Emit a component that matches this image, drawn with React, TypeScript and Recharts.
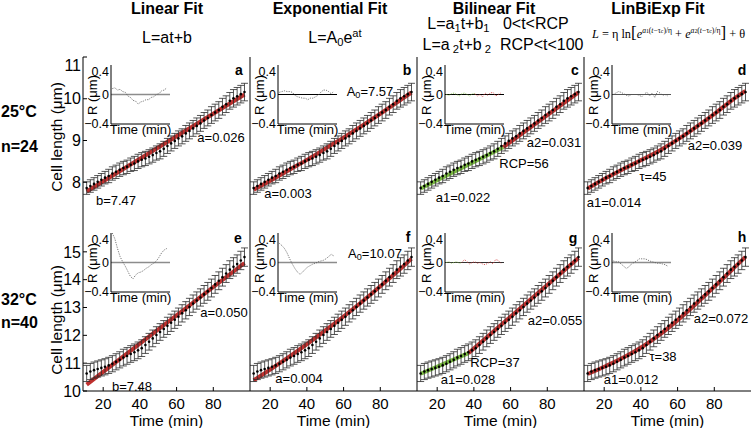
import React from 'react';
import {
  ComposedChart, LineChart, Line, Scatter, ErrorBar, XAxis, YAxis,
  ReferenceLine, CartesianGrid,
} from 'recharts';

const FONT = '"Liberation Sans", Arial, Helvetica, sans-serif';
const SERIF = '"Liberation Serif", "DejaVu Serif", serif';

// sampling times of the averaged length traces (min)
const times = [11, 13, 15, 17, 19, 21, 23, 25, 27, 29, 31, 33, 35, 37, 39, 41, 43, 45, 47, 49, 51, 53,
  55, 57, 59, 61, 63, 65, 67, 69, 71, 73, 75, 77, 79, 81, 83, 85, 87, 89, 91, 93, 95, 97];

// 25°C, n=24
const len25 = [7.86, 7.91, 7.96, 8.01, 8.06, 8.11, 8.15, 8.21, 8.25, 8.30, 8.34, 8.37, 8.42, 8.45, 8.50,
  8.54, 8.57, 8.61, 8.65, 8.70, 8.74, 8.80, 8.87, 8.93, 8.99, 9.05, 9.10, 9.17, 9.23, 9.29, 9.35, 9.41,
  9.48, 9.54, 9.61, 9.67, 9.73, 9.81, 9.87, 9.95, 10.01, 10.06, 10.11, 10.16];
const err25 = [0.15, 0.15, 0.15, 0.15, 0.15, 0.15, 0.16, 0.16, 0.16, 0.16, 0.16, 0.16, 0.16, 0.17, 0.17,
  0.17, 0.17, 0.17, 0.17, 0.17, 0.18, 0.18, 0.18, 0.18, 0.18, 0.18, 0.18, 0.19, 0.19, 0.19, 0.19, 0.19,
  0.19, 0.19, 0.20, 0.20, 0.20, 0.20, 0.20, 0.20, 0.21, 0.21, 0.21, 0.21];

// 32°C, n=40
const len32 = [10.63, 10.70, 10.75, 10.79, 10.83, 10.87, 10.92, 10.98, 11.05, 11.12, 11.20, 11.26, 11.33,
  11.39, 11.46, 11.54, 11.65, 11.77, 11.89, 12.01, 12.12, 12.23, 12.34, 12.45, 12.56, 12.67, 12.79, 12.90,
  13.02, 13.14, 13.25, 13.36, 13.47, 13.58, 13.70, 13.83, 13.96, 14.09, 14.22, 14.36, 14.46, 14.56, 14.69, 14.81];
const err32 = [0.29, 0.29, 0.29, 0.29, 0.29, 0.29, 0.29, 0.29, 0.29, 0.29, 0.30, 0.30, 0.30, 0.30, 0.30,
  0.30, 0.30, 0.30, 0.30, 0.30, 0.30, 0.30, 0.31, 0.31, 0.31, 0.31, 0.31, 0.31, 0.31, 0.31, 0.31, 0.31,
  0.32, 0.32, 0.32, 0.32, 0.32, 0.32, 0.32, 0.32, 0.33, 0.33, 0.33, 0.33];

// fitted curves
const linT = [11, 97];
const linA = [7.78, 10.10];
const linE = [10.23, 14.60];

const curveT = [11, 21, 31, 41, 51, 61, 71, 81, 91, 97];
const expB = [7.82, 8.06, 8.31, 8.56, 8.83, 9.10, 9.38, 9.67, 9.97, 10.15];
const expF = [10.38, 10.81, 11.26, 11.73, 12.22, 12.73, 13.26, 13.82, 14.39, 14.75];
const lbeD = [7.85, 8.10, 8.33, 8.55, 8.78, 9.05, 9.35, 9.67, 10.01, 10.19];
const lbeH = [10.61, 10.90, 11.22, 11.60, 12.06, 12.60, 13.19, 13.81, 14.44, 14.82];

const biC1T = [11, 56];
const biC1 = [7.85, 8.84];
const biC2T = [56, 97];
const biC2 = [8.84, 10.15];
const biG1T = [11, 37];
const biG1 = [10.62, 11.36];
const biG2T = [37, 97];
const biG2 = [11.36, 14.78];

// residuals shown in the insets
const resT = [11, 15, 19, 23, 27, 31, 35, 39, 43, 47, 51, 55, 59, 63, 67, 71, 75, 79, 83, 87, 91, 95];
const resA = [0.08, 0.09, 0.06, 0.07, 0.04, 0.03, -0.02, -0.04, -0.08, -0.09, -0.13, -0.10, -0.09, -0.07, -0.07, -0.04, -0.03, 0.00, 0.01, 0.05, 0.06, 0.09];
const resB = [0.03, 0.04, 0.05, 0.04, 0.04, 0.03, -0.01, -0.03, -0.04, -0.05, -0.05, -0.07, -0.05, -0.05, -0.03, -0.01, 0.03, 0.06, 0.06, 0.04, 0.01, 0.04];
const resC = [0.00, -0.01, 0.01, 0.02, 0.00, -0.02, 0.01, 0.02, 0.00, -0.02, 0.01, 0.01, -0.02, 0.00, -0.03, 0.02, -0.01, 0.02, 0.03, -0.02, 0.00, 0.02];
const resD = [0.00, 0.02, 0.04, 0.03, 0.01, -0.01, -0.02, 0.00, 0.00, 0.00, -0.01, -0.03, 0.01, 0.03, -0.02, 0.02, -0.04, 0.04, 0.02, -0.01, 0.00, -0.02];
const resE = [0.40, 0.32, 0.19, 0.08, 0.01, -0.05, -0.12, -0.19, -0.22, -0.17, -0.14, -0.13, -0.11, -0.08, -0.06, -0.03, -0.01, 0.02, 0.07, 0.13, 0.17, 0.19];
const resF = [0.26, 0.23, 0.19, 0.13, 0.05, -0.02, -0.08, -0.13, -0.16, -0.13, -0.09, -0.06, -0.04, -0.02, -0.01, 0.01, 0.02, 0.03, 0.05, 0.08, 0.11, 0.09];
const resG = [0.00, 0.01, -0.01, 0.00, 0.01, -0.01, 0.00, 0.04, 0.01, -0.02, 0.00, 0.01, -0.01, 0.00, -0.02, -0.03, -0.01, 0.01, -0.02, 0.04, 0.03, -0.01];
const resH = [0.02, 0.01, 0.01, -0.02, -0.05, -0.08, -0.06, -0.02, 0.00, 0.02, 0.05, 0.05, 0.05, 0.04, 0.02, 0.01, 0.00, -0.01, -0.01, -0.02, -0.03, -0.05];

const RCP_C = 56;
const RCP_G = 37;

const yTicks25 = [8, 9, 10, 11];
const yTicks32 = [10, 11, 12, 13, 14, 15];
const xTicks = [20, 40, 60, 80];

const RED = '#c0302e';
const GREEN = '#7cbd42';

// layout
const COLS = [83, 250, 417, 584];
const ROWS = [57, 224];
const PW = 167;
const PH = 167;
const YW = 44;
const IN = 59;

const pts = (ts: number[], vs: number[], es?: number[]) =>
  ts.map((t, i) => ({ t, v: vs[i], e: es ? es[i] : 0 }));
const rpts = (ts: number[], vs: number[]) => ts.map((t, i) => ({ t, r: vs[i] }));

const DataDot = (p: any) => <circle cx={p.cx} cy={p.cy} r={1.3} fill="#000" />;

type Fit = { data: { t: number; v: number }[]; color: string; curve?: boolean };

function Panel({ col, row, fits }: { col: number; row: number; fits: Fit[] }) {
  const left = COLS[col];
  const top = ROWS[row];
  const showY = col === 0;
  const showX = row === 1;
  const XH = showX ? 40 : 0;
  const data = row === 0 ? pts(times, len25, err25) : pts(times, len32, err32);
  const yDomain = row === 0 ? [7, 11] : [10, 16];
  const yTicks = row === 0 ? yTicks25 : yTicks32;
  return (
    <div style={{ position: 'absolute', left: left - YW, top: top - 1 }}>
      <ComposedChart width={YW + PW + 1} height={PH + XH + 2} margin={{ top: 1, right: 1, bottom: 1, left: 0 }}>
        <XAxis xAxisId="b" type="number" dataKey="t" domain={[9, 100]} allowDataOverflow ticks={xTicks}
          height={XH} stroke="#000" tickSize={-4} tickMargin={11}
          tick={showX ? { fill: '#000', fontSize: 15 } : false}
          label={showX ? { value: 'Time (min)', position: 'insideBottom', offset: 5, fill: '#000', fontSize: 15.5 } : undefined} />
        <XAxis xAxisId="t" orientation="top" type="number" dataKey="t" domain={[9, 100]} allowDataOverflow
          ticks={xTicks} height={0} stroke="#000" tickSize={-4} tick={false} />
        <YAxis yAxisId="l" type="number" dataKey="v" domain={yDomain} allowDataOverflow ticks={yTicks}
          width={YW} stroke="#000" tickSize={-4} tickMargin={6}
          tick={showY ? { fill: '#000', fontSize: 16 } : false} />
        <YAxis yAxisId="r" orientation="right" type="number" dataKey="v" domain={yDomain} allowDataOverflow
          ticks={yTicks} width={0} stroke="#000" tickSize={-4} tick={false} />
        {fits.map((f, i) => (
          <Line key={i} xAxisId="t" yAxisId="r" data={f.data} dataKey="v" type={f.curve ? 'monotone' : 'linear'}
            stroke={f.color} strokeWidth={4} dot={false} isAnimationActive={false} />
        ))}
        <Scatter xAxisId="b" yAxisId="l" data={data} dataKey="v" shape={DataDot} isAnimationActive={false}>
          <ErrorBar dataKey="e" direction="y" width={3.5} stroke="#2a2a2a" strokeWidth={0.8} isAnimationActive={false} />
        </Scatter>
      </ComposedChart>
    </div>
  );
}

type Res = { data: { t: number; r: number }[]; color: string };

const fmtR = (v: number) => (v === 0 ? '0' : v < 0 ? `\u2212${Math.abs(v)}` : `${v}`);

function Inset({ col, row, series, zero, zeroW }: { col: number; row: number; series: Res[]; zero: string; zeroW: number }) {
  const left = COLS[col];
  const top = ROWS[row] + (row === 0 ? 8 : 9);
  return (
    <>
      <div style={{ position: 'absolute', left, top: top - 1 }}>
        <LineChart width={28 + IN + 1} height={IN + 16} margin={{ top: 1, right: 1, bottom: 1, left: 0 }}>
          <CartesianGrid xAxisId="b" yAxisId="l" horizontal={false} vertical={false} fill="#fff" fillOpacity={1} />
          <XAxis xAxisId="b" type="number" dataKey="t" domain={[9, 100]} allowDataOverflow height={14}
            tick={false} tickLine={false} stroke="#000"
            label={{ value: 'Time (min)', position: 'insideTop', offset: 1, fill: '#000', fontSize: 13 }} />
          <XAxis xAxisId="t" orientation="top" type="number" dataKey="t" domain={[9, 100]} allowDataOverflow
            height={0} tick={false} tickLine={false} stroke="#000" />
          <YAxis yAxisId="l" type="number" dataKey="r" domain={[-0.4, 0.4]} allowDataOverflow ticks={[-0.4, 0, 0.4]}
            width={28} stroke="#000" tickLine={false} tickSize={0} tickMargin={2} tickFormatter={fmtR}
            tick={{ fill: '#000', fontSize: 12.5 }} />
          <YAxis yAxisId="r" orientation="right" type="number" dataKey="r" domain={[-0.4, 0.4]} allowDataOverflow
            width={0} stroke="#000" tick={false} tickLine={false} />
          <ReferenceLine xAxisId="t" yAxisId="r" y={0} stroke={zero} strokeWidth={zeroW} />
          {series.map((s, i) => (
            <Line key={i} xAxisId="b" yAxisId="l" data={s.data} dataKey="r" type="linear" stroke={s.color}
              strokeWidth={0.8} strokeDasharray="1.2 1.2" dot={false} isAnimationActive={false} />
          ))}
        </LineChart>
      </div>
      <div style={{
        position: 'absolute', left: left + 9, top: top + IN / 2, fontSize: 13, lineHeight: 1,
        whiteSpace: 'nowrap', transform: 'translate(-50%, -50%) rotate(-90deg)',
      }}>R (μm)</div>
    </>
  );
}

function Txt({ x, y, size = 13, bold = false, align = 'center', family = FONT, children }: any) {
  return (
    <div style={{
      position: 'absolute', left: x, top: y - size / 2, fontSize: size, lineHeight: 1,
      fontWeight: bold ? 700 : 400, whiteSpace: 'nowrap', fontFamily: family,
      transform: align === 'center' ? 'translateX(-50%)' : align === 'right' ? 'translateX(-100%)' : undefined,
    }}>{children}</div>
  );
}

const sub = { fontSize: '0.7em', lineHeight: 0, verticalAlign: '-0.25em' } as const;
const sup = { fontSize: '0.7em', lineHeight: 0, verticalAlign: '0.55em' } as const;
const esup = { fontSize: '0.62em', lineHeight: 0, verticalAlign: '0.6em' } as const;
const small = { fontSize: '0.75em' } as const;

function YLabel({ y }: { y: number }) {
  return (
    <div style={{
      position: 'absolute', left: 57, top: y, fontSize: 15.5, lineHeight: 1, whiteSpace: 'nowrap',
      transform: 'translate(-50%, -50%) rotate(-90deg)',
    }}>Cell length (μm)</div>
  );
}

export default function App() {
  const split = (ts: number[], vs: number[], rcp: number) => {
    const last = ts.filter((t) => t <= rcp).length - 1;
    return [
      { data: rpts(ts.slice(0, last + 1), vs.slice(0, last + 1)), color: GREEN },
      { data: rpts(ts.slice(last), vs.slice(last)), color: '#d03a3a' },
    ];
  };
  const grey = '#555';
  return (
    <div style={{
      position: 'absolute', left: 0, top: 0, width: 751, height: 428, overflow: 'hidden',
      background: '#fff', fontFamily: FONT, color: '#000',
    }}>
      <Panel col={0} row={0} fits={[{ data: pts(linT, linA), color: RED }]} />
      <Panel col={1} row={0} fits={[{ data: pts(curveT, expB), color: RED, curve: true }]} />
      <Panel col={2} row={0} fits={[{ data: pts(biC1T, biC1), color: GREEN }, { data: pts(biC2T, biC2), color: RED }]} />
      <Panel col={3} row={0} fits={[{ data: pts(curveT, lbeD), color: RED, curve: true }]} />
      <Panel col={0} row={1} fits={[{ data: pts(linT, linE), color: RED }]} />
      <Panel col={1} row={1} fits={[{ data: pts(curveT, expF), color: RED, curve: true }]} />
      <Panel col={2} row={1} fits={[{ data: pts(biG1T, biG1), color: GREEN }, { data: pts(biG2T, biG2), color: RED }]} />
      <Panel col={3} row={1} fits={[{ data: pts(curveT, lbeH), color: RED, curve: true }]} />

      <Inset col={0} row={0} series={[{ data: rpts(resT, resA), color: grey }]} zero="#8c8c8c" zeroW={1.6} />
      <Inset col={1} row={0} series={[{ data: rpts(resT, resB), color: grey }]} zero="#000" zeroW={1} />
      <Inset col={2} row={0} series={split(resT, resC, RCP_C)} zero="#000" zeroW={1} />
      <Inset col={3} row={0} series={[{ data: rpts(resT, resD), color: grey }]} zero="#555" zeroW={1.2} />
      <Inset col={0} row={1} series={[{ data: rpts(resT, resE), color: grey }]} zero="#8c8c8c" zeroW={1.6} />
      <Inset col={1} row={1} series={[{ data: rpts(resT, resF), color: grey }]} zero="#8c8c8c" zeroW={1.3} />
      <Inset col={2} row={1} series={split(resT, resG, RCP_G)} zero="#333" zeroW={1} />
      <Inset col={3} row={1} series={[{ data: rpts(resT, resH), color: grey }]} zero="#8c8c8c" zeroW={1.6} />

      {/* column titles */}
      <Txt x={167} y={8.5} size={16} bold>Linear Fit</Txt>
      <Txt x={330} y={8.5} size={16} bold>Exponential Fit</Txt>
      <Txt x={494} y={8.5} size={16} bold>Bilinear Fit</Txt>
      <Txt x={658} y={8.5} size={16} bold>LinBiExp Fit</Txt>

      <Txt x={167} y={38} size={16}>L=at+b</Txt>
      <Txt x={335} y={38} size={16}>L=A<span style={sub}>0</span>e<span style={sup}>at</span></Txt>
      <Txt x={498} y={24} size={16}>L=a<span style={sub}>1</span>t+b<span style={sub}>1</span>&nbsp;&nbsp;&nbsp;0&lt;t&lt;RCP</Txt>
      <Txt x={503} y={45} size={16}>L=a<span style={sub}> 2</span>t+b<span style={sub}> 2</span>&nbsp;&nbsp;RCP&lt;t&lt;100</Txt>
      <Txt x={592} y={34} size={12.3} family={SERIF} align="left">
        <i>L</i> = η ln<span style={{ fontSize: 17, lineHeight: 0 }}>[</span><i>e</i>
        <span style={esup}><i>a</i><span style={small}>1</span>(<i>t</i>−τ<span style={small}>c</span>)/η</span>
        {' + '}<i>e</i>
        <span style={esup}><i>a</i><span style={small}>2</span>(<i>t</i>−τ<span style={small}>c</span>)/η</span>
        <span style={{ fontSize: 17, lineHeight: 0 }}>]</span> + θ
      </Txt>

      {/* row labels */}
      <Txt x={1} y={112} size={16} bold align="left">25°C</Txt>
      <Txt x={1} y={147} size={16} bold align="left">n=24</Txt>
      <Txt x={1} y={300} size={16} bold align="left">32°C</Txt>
      <Txt x={1} y={323} size={16} bold align="left">n=40</Txt>
      <YLabel y={137} />
      <YLabel y={320} />

      {/* panel letters */}
      <Txt x={239} y={70} size={14} bold>a</Txt>
      <Txt x={407} y={70} size={14} bold>b</Txt>
      <Txt x={575} y={70} size={14} bold>c</Txt>
      <Txt x={742} y={70} size={14} bold>d</Txt>
      <Txt x={238} y={238} size={14} bold>e</Txt>
      <Txt x={408} y={237} size={14} bold>f</Txt>
      <Txt x={573} y={238} size={14} bold>g</Txt>
      <Txt x={742} y={237} size={14} bold>h</Txt>

      {/* fit parameters */}
      <Txt x={221} y={137}>a=0.026</Txt>
      <Txt x={116} y={200}>b=7.47</Txt>
      <Txt x={370} y={91}>A<span style={sub}>0</span>=7.57</Txt>
      <Txt x={288} y={193}>a=0.003</Txt>
      <Txt x={554} y={142}>a2=0.031</Txt>
      <Txt x={524} y={163}>RCP=56</Txt>
      <Txt x={463} y={197}>a1=0.022</Txt>
      <Txt x={715} y={145}>a2=0.039</Txt>
      <Txt x={653} y={176}>τ=45</Txt>
      <Txt x={614} y={202}>a1=0.014</Txt>

      <Txt x={224} y={312}>a=0.050</Txt>
      <Txt x={132} y={386}>b=7.48</Txt>
      <Txt x={375} y={253}>A<span style={sub}>0</span>=10.07</Txt>
      <Txt x={299} y={378}>a=0.004</Txt>
      <Txt x={555} y={320}>a2=0.055</Txt>
      <Txt x={495} y={362}>RCP=37</Txt>
      <Txt x={468} y={379}>a1=0.028</Txt>
      <Txt x={721} y={318}>a2=0.072</Txt>
      <Txt x={663} y={356}>τ=38</Txt>
      <Txt x={631} y={379}>a1=0.012</Txt>
    </div>
  );
}
